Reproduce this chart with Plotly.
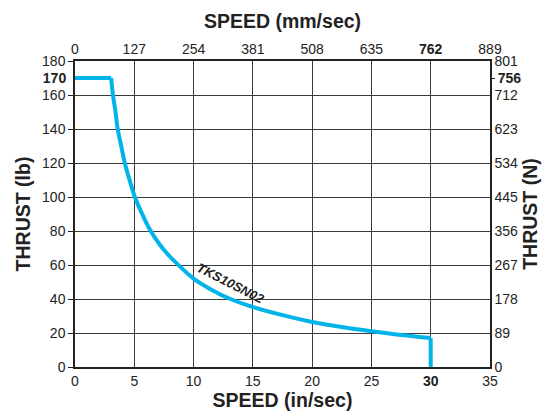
import plotly.graph_objects as go

# ---- data ----
flat_speed = [0, 3.05]
flat_thrust = [170, 170]
curve_speed = [3.05, 3.2, 3.4, 3.6, 3.9, 4.2, 4.6, 5.05, 5.6, 6.3, 7.2, 8.0, 8.8,
               10, 11.5, 13.1, 15, 17.5, 20, 22.5, 25, 27.5, 30]
curve_thrust = [170, 160, 151, 140, 130, 120, 110, 100, 91, 81, 71.5, 65, 59.5,
                52, 45.5, 40, 35.3, 30.5, 26.5, 23.5, 21, 18.8, 17]
drop_speed = [30, 30]
drop_thrust = [17, 0]

in_ticks = [0, 5, 10, 15, 20, 25, 30, 35]
in_labels = ["0", "5", "10", "15", "20", "25", "<b>30</b>", "35"]
mm_labels = ["0", "127", "254", "381", "508", "635", "<b>762</b>", "889"]
lb_ticks = [0, 20, 40, 60, 80, 100, 120, 140, 160, 180]
lb_labels = [str(v) for v in lb_ticks]
n_labels = ["0", "89", "178", "267", "356", "445", "534", "623", "712", "801"]
max_lb = 170
max_lb_label = "<b>170</b>"
max_n_label = "<b>756</b>"
model_name = "TKS10SN02"

FONT = "Liberation Sans, Arial, sans-serif"
LINE = "#00b4ea"
GRID = "#3a3a3a"

fig = go.Figure()
for xs, ys, shape in [(flat_speed, flat_thrust, "linear"),
                      (curve_speed, curve_thrust, "spline"),
                      (drop_speed, drop_thrust, "linear")]:
    fig.add_trace(go.Scatter(x=xs, y=ys, mode="lines",
                             line=dict(color=LINE, width=4, shape=shape),
                             showlegend=False, hoverinfo="skip"))

# dummy traces to activate secondary axes
fig.add_trace(go.Scatter(x=[None], y=[None], xaxis="x2", yaxis="y2", showlegend=False))
fig.add_trace(go.Scatter(x=[None], y=[None], xaxis="x", yaxis="y3", showlegend=False))
fig.add_trace(go.Scatter(x=[None], y=[None], xaxis="x", yaxis="y4", showlegend=False))

tickfont = dict(family=FONT, size=14, color="#222")
titlefont = dict(family=FONT, size=19.5, color="#222")

fig.add_annotation(x=13.15, y=49.3, text="<b><i>" + model_name + "</i></b>",
                   showarrow=False, textangle=27,
                   font=dict(family=FONT, size=13, color="#222"))

fig.update_layout(
    width=553, height=418,
    margin=dict(l=67, r=71, t=48, b=59),
    paper_bgcolor="white", plot_bgcolor="white",
    xaxis=dict(range=[0, 35], tickvals=in_ticks, ticktext=in_labels,
               showgrid=True, gridcolor=GRID, gridwidth=1,
               showline=True, linecolor="#222", linewidth=1.5,
               ticks="", tickfont=tickfont, zeroline=False,
               title=dict(text="<b>SPEED (in/sec)</b>", font=titlefont, standoff=2)),
    xaxis2=dict(range=[0, 35], tickvals=in_ticks, ticktext=mm_labels,
                overlaying="x", side="top", showgrid=False,
                showline=True, linecolor="#222", linewidth=1.5,
                ticks="", tickfont=tickfont, zeroline=False,
                title=dict(text="<b>SPEED (mm/sec)</b>", font=titlefont, standoff=7)),
    yaxis=dict(range=[0, 180], tickvals=lb_ticks, ticktext=lb_labels,
               showgrid=True, gridcolor=GRID, gridwidth=1,
               showline=True, linecolor="#222", linewidth=1.5,
               ticks="outside", ticklen=5, tickcolor="#222",
               tickfont=tickfont, zeroline=False,
               title=dict(text="<b>THRUST (lb)</b>", font=titlefont, standoff=6)),
    yaxis2=dict(range=[0, 180], tickvals=lb_ticks, ticktext=n_labels,
                overlaying="y", side="right", showgrid=False,
                showline=True, linecolor="#222", linewidth=1.5,
                ticks="", tickfont=tickfont, zeroline=False,
                title=dict(text="<b>THRUST (N)</b>", font=titlefont, standoff=6)),
    yaxis3=dict(range=[0, 180], tickvals=[max_lb], ticktext=[max_lb_label],
                overlaying="y", side="left", showgrid=False, showline=False,
                ticks="outside", ticklen=5, tickcolor="rgba(0,0,0,0)",
                tickfont=tickfont, zeroline=False),
    yaxis4=dict(range=[0, 180], tickvals=[max_lb], ticktext=[max_n_label],
                overlaying="y", side="right", showgrid=False, showline=False,
                ticks="outside", ticklen=4, tickcolor="#222",
                tickfont=tickfont, zeroline=False),
)

fig.write_html("out.html")
